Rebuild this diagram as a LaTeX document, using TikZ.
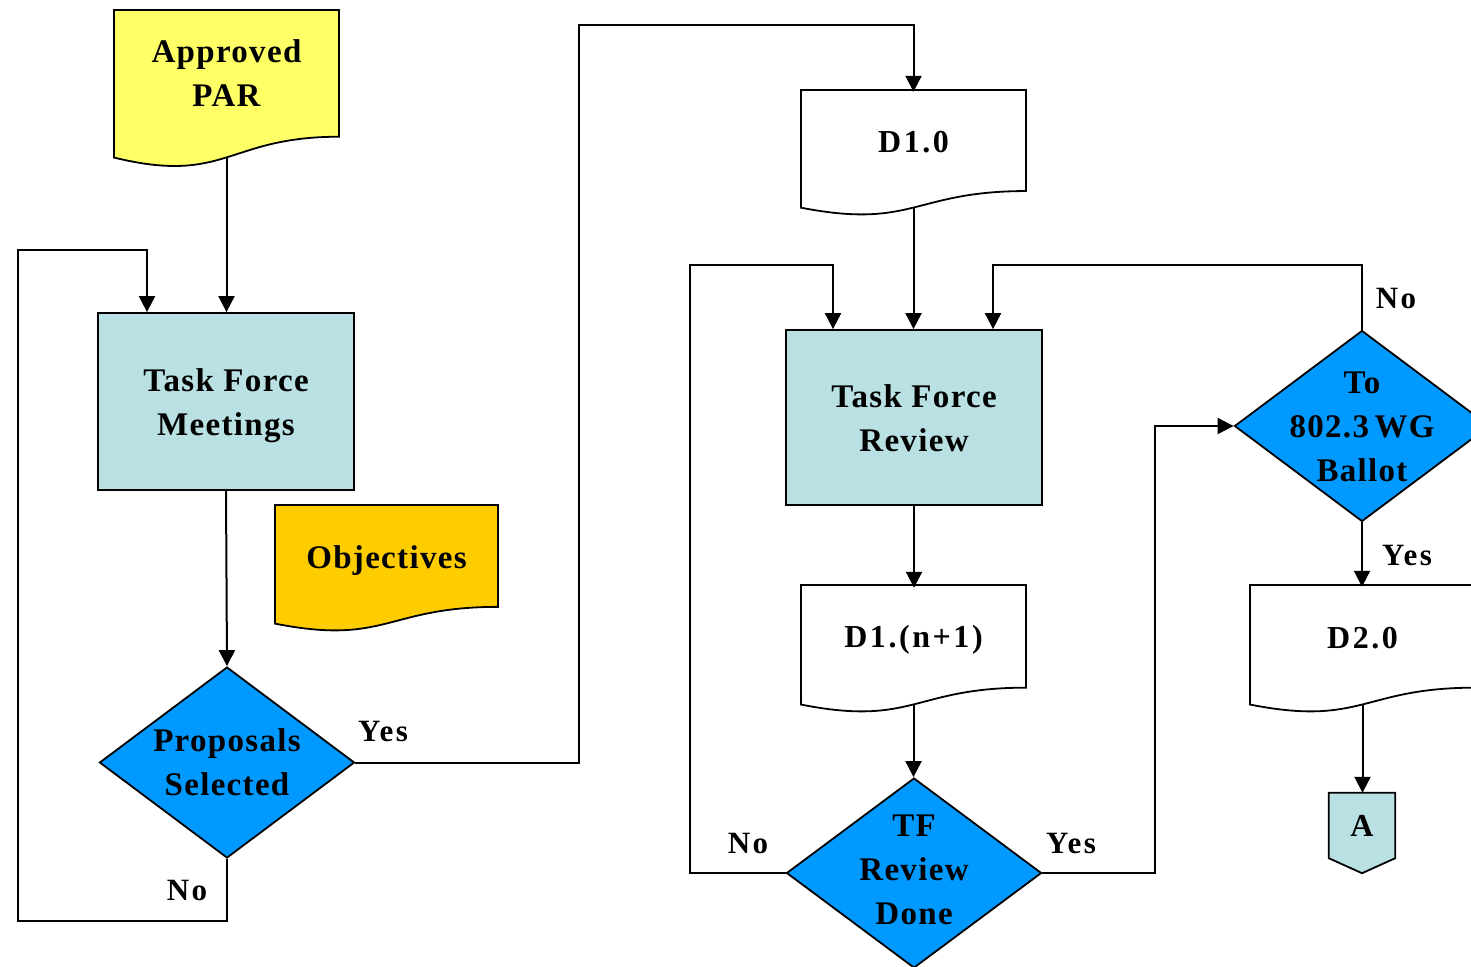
\documentclass[tikz,border=0pt]{standalone}
\usepackage{fontspec}
\setmainfont{Liberation Serif}
\newfontfamily\gfont[LetterSpace=4]{Liberation Serif}
\newfontfamily\tfont[LetterSpace=8]{Liberation Serif}
\usetikzlibrary{shapes.geometric,arrows.meta,calc}
\definecolor{boxblue}{HTML}{B9E0E3}
\definecolor{dblue}{HTML}{0099FF}
\definecolor{pyellow}{HTML}{FFFF66}
\definecolor{porange}{HTML}{FFCC00}
\tikzset{
  outline/.style={draw=black, line width=1.8pt},
  conn/.style={line width=2pt},
  arr/.style={conn, -{Triangle[length=16pt,width=16pt]}},
  gtxt/.style={font=\gfont\bfseries\fontsize{33}{44}\selectfont, align=center},
  ttxt/.style={font=\tfont\bfseries\fontsize{32}{40}\selectfont, align=center},
  lbl/.style={font=\tfont\bfseries\fontsize{31}{36}\selectfont, inner sep=0},
  procbox/.style={outline, fill=boxblue, minimum width=256pt, inner sep=0},
  decision/.style={diamond, outline, fill=dblue, inner sep=0, minimum width=255pt, minimum height=191pt},
}
% #1 name, #2 x, #3 y, #4 w, #5 h, #6 fill, #7 text style, #8 text
\newcommand\docnode[8]{%
  \path[outline, fill=#6] (#2,#3) -- (#2+#4,#3) -- (#2+#4,#3+0.802*#5)
    .. controls (#2+0.5*#4,#3+0.802*#5) and (#2+0.5*#4,#3+1.1075*#5) .. (#2,#3+0.934*#5) -- cycle;
  \node[#7, inner sep=0, minimum width=#4, minimum height=0.802*#5] (#1) at (#2+0.5*#4,#3+0.401*#5) {#8};
  \coordinate (#1-b) at (#2+0.5*#4,#3+0.933*#5);
}
\begin{document}
\begin{tikzpicture}[x=1pt,y=-1pt]
\useasboundingbox (0,0) rectangle (1471,966);
\clip (0,0) rectangle (1471,966);
\fill[white] (0,0) rectangle (1471,966);

% documents
\docnode{app}{114}{10}{225}{158}{pyellow}{gtxt}{Approved\\PAR}
\docnode{obj}{275}{505}{223}{127}{porange}{gtxt, yshift=-5pt}{Objectives}
\docnode{d10}{801}{90}{225}{126}{white}{ttxt, yshift=-2pt}{D1.0}
\docnode{dn}{801}{585}{225}{128}{white}{ttxt, yshift=-3pt}{D1.(n+1)}
\docnode{d20}{1250}{585}{225}{128}{white}{ttxt, yshift=-2pt}{D2.0}

% process boxes
\node[procbox, minimum height=177pt] (tfm) at (226,401.5) {};
\node[gtxt] (tfmt) at ($(tfm.center)+(0,4)$) {Task Force\\Meetings};
\node[procbox, minimum height=175pt] (tfr) at (914,417.5) {};
\node[gtxt] (tfrt) at ($(tfr.center)+(0,1)$) {Task Force\\Review};

% decisions
\node[decision] (ps) at (227,762.5) {};
\node[gtxt] (pst) at (ps.center) {Proposals\\Selected};
\node[decision, minimum height=190pt] (tfrd) at (914,873) {};
\node[gtxt] (tfrdt) at ($(tfrd.center)+(0,-3)$) {TF\\Review\\Done};
\node[decision] (bal) at (1362,426) {};
\node[gtxt] (balt) at ($(bal.center)+(0,1)$) {To\\802.3\,WG\\Ballot};

% off-page connector
\node[ttxt, inner sep=0, minimum width=66pt, minimum height=65pt] (A) at (1362,825.5) {};
\path[outline, fill=boxblue] (A.north west) -- (A.north east) -- (A.south east)
  -- ($(A.south)+(0,15)$) -- (A.south west) -- cycle;
\node[ttxt, inner sep=0] (At) at (A.center) {A};

% connectors
\draw[arr] (app-b) -- (app-b |- tfm.north);
\draw[arr] (tfm.south) -- (ps.north);
\draw[arr] (ps.south) -- (227,921) -- (18,921) -- (18,250) -- (147,250) -- (147,250 |- tfm.north);
\draw[arr] (ps.east) -- (579,762.5) -- (579,25) -- (d10.north |- 0,25) -- (d10.north);
\draw[arr] (d10-b) -- (d10-b |- tfr.north);
\draw[arr] (tfr.south) -- (tfr.south |- dn.north);
\draw[arr] (dn-b) -- (dn-b |- tfrd.north);
\draw[arr] (tfrd.west) -- (690,873) -- (690,265) -- (833,265) -- (833,265 |- tfr.north);
\draw[arr] (tfrd.east) -- (1155,873) -- (1155,426) -- (bal.west);
\draw[arr] (bal.north) -- (1362,265) -- (993,265) -- (993,265 |- tfr.north);
\draw[arr] (bal.south) -- (bal.south |- d20.north);
\draw[arr] (d20-b) -- (d20-b |- A.north);

% labels
\node[lbl] (l1) at (383,731) {Yes};
\node[lbl] (l2) at (187,890) {No};
\node[lbl] (l3) at (748,843) {No};
\node[lbl] (l4) at (1071,843) {Yes};
\node[lbl] (l5) at (1396,298) {No};
\node[lbl] (l6) at (1407,555) {Yes};
\end{tikzpicture}
\end{document}
